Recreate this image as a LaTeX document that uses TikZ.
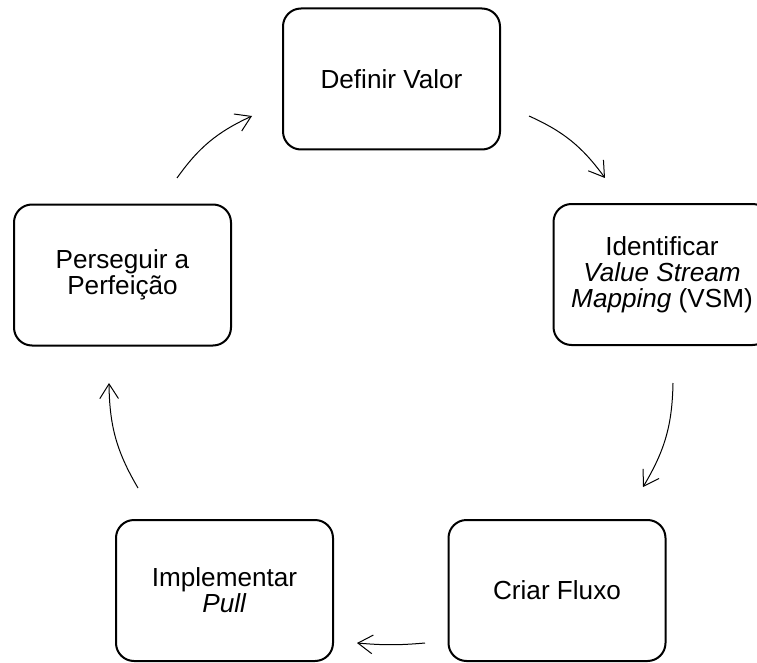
\documentclass[tikz,border=0pt]{standalone}
\usepackage{fontspec}
\setmainfont{Liberation Sans}
\usetikzlibrary{arrows.meta,bending}
\tikzset{>={Straight Barb[length=11pt,width=14pt]}}
\tikzset{etapa/.style={draw,line width=1.5pt,rounded corners=13.5pt,
    minimum width=162.75pt,minimum height=105.75pt,align=center,
    font=\fontsize{19.6pt}{19.6pt}\selectfont}}

\begin{document}
\begin{tikzpicture}[x=0.75pt,y=0.75pt]
      \useasboundingbox (0,0) rectangle (757,662);
      % etapas
      \node[etapa] (definir) at (391.5,583) {Definir Valor};
      \node[etapa] (identificar) at (662,387.5) {Identificar\\\textit{Value Stream}\\\textit{Mapping} (VSM)};
      \node[etapa] (criar) at (557,71.5) {Criar Fluxo};
      \node[etapa] (implementar) at (224.5,71.5) {Implementar\\\textit{Pull}};
      \node[etapa] (perseguir) at (122.5,387) {Perseguir a\\Perfeição};
      % pontas das setas
      \coordinate (p1) at (177,484);
      \coordinate (d1) at (252,546);
      \coordinate (d2) at (529,546);
      \coordinate (i1) at (605,484);
      \coordinate (i2) at (673,279);
      \coordinate (c1) at (643,175);
      \coordinate (c2) at (425,19);
      \coordinate (m1) at (357,19);
      \coordinate (m2) at (138,174);
      \coordinate (p2) at (109,279);
      \draw[line width=0.75pt,->] (p1) to[bend left=15] (d1);
      \draw[line width=0.75pt,->] (d2) to[bend left=15] (i1);
      \draw[line width=0.75pt,->] (i2) to[bend left=15] (c1);
      \draw[line width=0.75pt,->] (c2) to[bend left=5] (m1);
      \draw[line width=0.75pt,->] (m2) to[bend left=15] (p2);
\end{tikzpicture}
\end{document}
